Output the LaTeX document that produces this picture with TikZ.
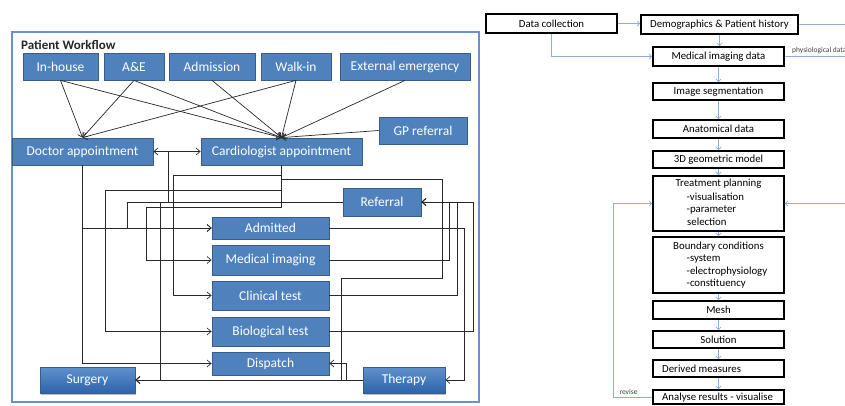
\documentclass[tikz,border=0pt]{standalone}
\usepackage{fontspec}
\setmainfont{Carlito}
\usetikzlibrary{arrows.meta,shadows,calc}
\definecolor{boxblue}{RGB}{79,129,189}
\definecolor{boxedge}{RGB}{56,93,138}
\definecolor{panelblue}{RGB}{105,145,205}
\definecolor{flowblue}{RGB}{140,175,220}
\definecolor{linegray}{RGB}{40,40,40}
\begin{document}
\begin{tikzpicture}[x=1pt,y=-1pt,
  bbox/.style={draw=boxedge, fill=boxblue, text=white, line width=0.8pt, inner sep=0pt,
    font=\fontsize{13.5}{15}\selectfont, minimum height=27},
  gbox/.style={bbox, top color={rgb,255:red,95;green,145;blue,205}, bottom color={rgb,255:red,45;green,100;blue,170},
    drop shadow={shadow xshift=1pt,shadow yshift=-1.5pt,fill=black!50,opacity=0.5}},
  lline/.style={draw=linegray, line width=0.7pt},
  larr/.style={lline, -{Straight Barb[length=4pt,width=7pt]}},
  ldarr/.style={lline, {Straight Barb[length=4pt,width=7pt]}-{Straight Barb[length=4pt,width=7pt]}},
  rbox/.style={draw=black, line width=1.6pt, fill=white, inner sep=0pt, minimum width=131,
    font=\fontsize{10.8}{12.5}\selectfont,
    drop shadow={shadow xshift=1pt,shadow yshift=-1pt,fill=black!45,opacity=0.5}},
  rtxt/.style={inner sep=0pt, font=\fontsize{10.8}{12.5}\selectfont},
  small/.style={inner sep=0pt, font=\fontsize{7.5}{9}\selectfont, text=black!75},
  rline/.style={draw=flowblue, line width=0.8pt},
  rarr/.style={rline, -{Straight Barb[length=2.5pt,width=5pt]}}
]
\useasboundingbox (0,0) rectangle (845,406);
\clip (0,0) rectangle (845,406);
\fill[white] (0,0) rectangle (845,406);

% ---------------- Left panel ----------------
\draw[draw=panelblue, line width=1.6pt] (12,32) rectangle (479,402);
\node[anchor=west, inner sep=0pt, font=\bfseries\fontsize{13}{15}\selectfont, text=black!85] (title) at (21,45) {Patient Workflow};

\node[bbox, minimum width=75]  (inhouse)   at (60.5,66.5) {In-house};
\node[bbox, minimum width=60]  (ae)        at (134,66.5)  {A\&E};
\node[bbox, minimum width=86]  (admission) at (212,66.5)  {Admission};
\node[bbox, minimum width=70]  (walkin)    at (296,66.5)  {Walk-in};
\node[bbox, minimum width=130] (ext)       at (405,66.5)  {External emergency};
\node[bbox, minimum width=88]  (gp)        at (423,130.5) {GP referral};
\node[bbox, minimum width=141] (doctor)    at (82.5,151.5) {Doctor appointment};
\node[bbox, minimum width=161] (cardio)    at (281.5,151.5) {Cardiologist appointment};
\node[bbox, minimum width=78, minimum height=28] (referral) at (382,202) {Referral};
\node[bbox, minimum width=117, minimum height=22] (admitted) at (270.5,228) {Admitted};
\node[bbox, minimum width=117, minimum height=30] (medimg)   at (270.5,260) {Medical imaging};
\node[bbox, minimum width=117, minimum height=29] (clinical) at (270.5,295.5) {Clinical test};
\node[bbox, minimum width=117, minimum height=29] (bio)      at (270.5,331.5) {Biological test};
\node[bbox, minimum width=117, minimum height=23] (dispatch) at (270.5,363.5) {Dispatch};
\node[gbox, minimum width=95, minimum height=26] (surgery)  at (87.5,380) {Surgery};
\node[gbox, minimum width=82, minimum height=26] (therapy)  at (404,380) {Therapy};

% entry arrows
\draw[larr] (inhouse.south) -- (doctor.north);
\draw[larr] (inhouse.south) -- (cardio.north);
\draw[larr] (ae.south) -- (doctor.north);
\draw[larr] (ae.south) -- (cardio.north);
\draw[larr] (admission.south) -- (cardio.north);
\draw[larr] (walkin.south) -- (doctor.north);
\draw[larr] (walkin.south) -- (cardio.north);
\draw[larr] (ext.south) -- (cardio.north);
\draw[larr] (gp.west) -- (cardio.north);
\draw[ldarr] (doctor.east) -- (cardio.west);

% doctor outputs
\draw[larr] (doctor.south) |- (admitted.west);
\draw[larr] (doctor.south) |- (dispatch.west);

% cardiologist outputs
\draw[larr] (cardio.south) |- (173,175) |- (clinical.west);
\draw[larr] (cardio.south) |- (105,190) |- (bio.west);
\draw[larr] (cardio.south) |- (146,207) |- (medimg.west);
\draw[larr] (cardio.south) |- (442,179) |- (341,278) |- (surgery.east);

% referral outputs
\draw[larr] (referral.west) -| (127,228) -- (admitted.west);
\draw[lline] (referral.west) -| (168,151.5);
\draw[larr] (referral.west) -| (160,380) -- (surgery.east);

% returns to referral
\draw[larr] (medimg.east) -| (449,202) -- (referral.east);
\draw[larr] (clinical.east) -| (457,202) -- (referral.east);
\draw[larr] (bio.east) -| (473,202) -- (referral.east);
\draw[larr] (admitted.east) -| (464,380) -- (therapy.east);

% therapy outputs
\draw[larr] (therapy.west) -- (surgery.east);
\draw[larr] (therapy.west) -| (346,363.5) -- (dispatch.east);

% ---------------- Right panel ----------------
\node[rbox, minimum height=19] (dc) at (551.5,23.5) {Data collection};
\node[rbox, minimum height=19, minimum width=157] (demo) at (719.5,24.5) {Demographics \& Patient history};
\node[rbox, minimum height=19] (mid)  at (718.5,56.5) {Medical imaging data};
\node[rbox, minimum height=17] (seg)  at (718.5,91.5) {Image segmentation};
\node[rbox, minimum height=18] (anat) at (718.5,129) {Anatomical data};
\node[rbox, minimum height=17] (geo)  at (718.5,159.5) {3D geometric model};
\node[rbox, minimum height=55] (treat) at (718.5,203.5) {};
\node[rtxt] (t0) at (718.5,184) {Treatment planning};
\node[rtxt, anchor=west] (t1) at (686.5,197) {-visualisation};
\node[rtxt, anchor=west] (t2) at (686.5,210) {-parameter};
\node[rtxt, anchor=west] (t3) at (687,222) {selection};
\node[rbox, minimum height=56] (bc) at (718.5,265) {};
\node[rtxt] (b0) at (718.5,247) {Boundary conditions};
\node[rtxt, anchor=west] (b1) at (686.5,259) {-system};
\node[rtxt, anchor=west] (b2) at (686.5,272) {-electrophysiology};
\node[rtxt, anchor=west] (b3) at (686.5,284) {-constituency};
\node[rbox, minimum height=18] (mesh) at (718.5,310) {Mesh};
\node[rbox, minimum height=17] (sol)  at (718.5,339.5) {Solution};
\node[rbox, minimum height=17] (derived) at (718.5,368.5) {};
\node[rtxt, anchor=west] (dtxt) at (662,368.5) {Derived measures};
\node[rbox, minimum height=14] (analyse) at (718.5,397) {};
\node[rtxt, anchor=west] (atxt) at (662,397.5) {Analyse results - visualise};

\draw[rarr] (dc.east) -- (dc.east -| demo.west);
\draw[rarr] (dc.south) |- (mid.west);
\draw[rarr] (demo.south) -- (demo.south |- mid.north);
\draw[rline] (demo.east) -- (845,24.5);
\draw[rline] (mid.east) -- (845,56.5);
\node[small, anchor=south west] (phys) at (792,54) {physiological data};
\draw[rarr] (mid.south) -- (seg.north);
\draw[rarr] (seg.south) -- (anat.north);
\draw[rarr] (anat.south) -- (geo.north);
\draw[rarr] (geo.south) -- (treat.north);
\draw[rarr] (treat.south) -- (bc.north);
\draw[rarr] (bc.south) -- (mesh.north);
\draw[rarr] (mesh.south) -- (sol.north);
\draw[rarr] (sol.south) -- (derived.north);
\draw[rarr] (derived.south) -- (analyse.north);
\draw[rarr] (analyse.west) -| (613,203.5) -- (treat.west);
\node[small, anchor=south] (revise) at (628.5,395) {revise};
\draw[rarr] (845,203.5) -- (treat.east);
\end{tikzpicture}
\end{document}
